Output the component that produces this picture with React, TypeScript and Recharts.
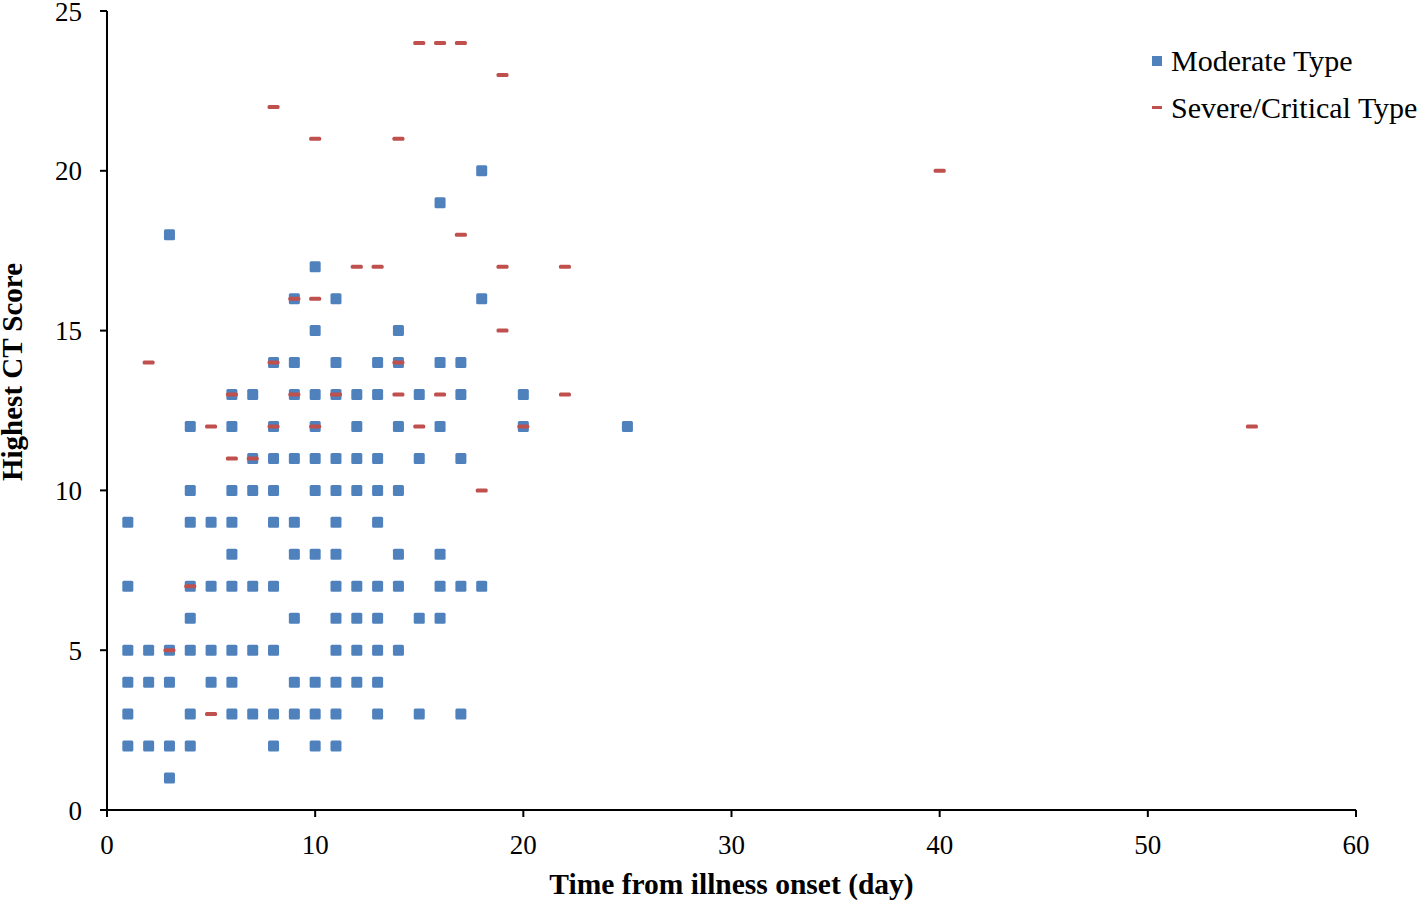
import { ScatterChart, Scatter, XAxis, YAxis, Legend, Label } from "recharts";

// moderate type, listed row by row (score 1 upward)
const moderateDays = [
  3,
  1, 2, 3, 4, 8, 10, 11,
  1, 4, 6, 7, 8, 9, 10, 11, 13, 15, 17,
  1, 2, 3, 5, 6, 9, 10, 11, 12, 13,
  1, 2, 3, 4, 5, 6, 7, 8, 11, 12, 13, 14,
  4, 9, 11, 12, 13, 15, 16,
  1, 4, 5, 6, 7, 8, 11, 12, 13, 14, 16, 17, 18,
  6, 9, 10, 11, 14, 16,
  1, 4, 5, 6, 8, 9, 11, 13,
  4, 6, 7, 8, 10, 11, 12, 13, 14,
  7, 8, 9, 10, 11, 12, 13, 15, 17,
  4, 6, 8, 10, 12, 14, 16, 20, 25,
  6, 7, 9, 10, 11, 12, 13, 15, 17, 20,
  8, 9, 11, 13, 14, 16, 17,
  10, 14,
  9, 11, 18,
  10,
  3,
  16,
  18,
];
const moderateScores = [
  1,
  2, 2, 2, 2, 2, 2, 2,
  3, 3, 3, 3, 3, 3, 3, 3, 3, 3, 3,
  4, 4, 4, 4, 4, 4, 4, 4, 4, 4,
  5, 5, 5, 5, 5, 5, 5, 5, 5, 5, 5, 5,
  6, 6, 6, 6, 6, 6, 6,
  7, 7, 7, 7, 7, 7, 7, 7, 7, 7, 7, 7, 7,
  8, 8, 8, 8, 8, 8,
  9, 9, 9, 9, 9, 9, 9, 9,
  10, 10, 10, 10, 10, 10, 10, 10, 10,
  11, 11, 11, 11, 11, 11, 11, 11, 11,
  12, 12, 12, 12, 12, 12, 12, 12, 12,
  13, 13, 13, 13, 13, 13, 13, 13, 13, 13,
  14, 14, 14, 14, 14, 14, 14,
  15, 15,
  16, 16, 16,
  17,
  18,
  19,
  20,
];

// severe / critical type
const severeDays = [5, 3, 4, 18, 6, 7, 5, 8, 10, 15, 20, 55, 6, 9, 11, 14, 16, 22, 2, 8, 14, 19, 9, 10, 12, 13, 19, 22, 17, 40, 10, 14, 8, 19, 15, 16, 17];
const severeScores = [3, 5, 7, 10, 11, 11, 12, 12, 12, 12, 12, 12, 13, 13, 13, 13, 13, 13, 14, 14, 14, 15, 16, 16, 17, 17, 17, 17, 18, 20, 21, 21, 22, 23, 24, 24, 24];

const xTicks = [0, 10, 20, 30, 40, 50, 60];
const yTicks = [0, 5, 10, 15, 20, 25];

const moderateData = moderateDays.map((d, i) => ({ day: d, score: moderateScores[i] }));
const severeData = severeDays.map((d, i) => ({ day: d, score: severeScores[i] }));

const FONT = '"Liberation Serif", "Times New Roman", serif';
const BLUE = "#4F81BD";
const RED = "#C0504D";

const Square = (props: any) => {
  const { cx, cy } = props;
  return <rect x={cx - 5.5} y={cy - 5.5} width={11} height={11} rx={1.5} fill={BLUE} />;
};

const Dash = (props: any) => {
  const { cx, cy } = props;
  return <rect x={cx - 6} y={cy - 2} width={12} height={4} rx={1.5} fill={RED} />;
};

const XTitle = (props: any) => {
  const vb = props.viewBox;
  return (
    <text x={vb.x + vb.width / 2} y={vb.y + 84} textAnchor="middle" fontFamily={FONT} fontSize={29.5} fontWeight="bold" fill="#000">
      Time from illness onset (day)
    </text>
  );
};

const YTitle = (props: any) => {
  const vb = props.viewBox;
  const x = vb.x + 22;
  const y = 372;
  return (
    <text x={x} y={y} transform={`rotate(-90, ${x}, ${y})`} textAnchor="middle" fontFamily={FONT} fontSize={29} fontWeight="bold" fill="#000">
      Highest CT Score
    </text>
  );
};

const LegendBox = () => (
  <div style={{ fontFamily: FONT, fontSize: 30, color: "#000", lineHeight: "47px", whiteSpace: "nowrap" }}>
    <div style={{ display: "flex", alignItems: "center" }}>
      <span style={{ display: "inline-block", width: 10, height: 10, background: BLUE, marginRight: 9 }} />
      Moderate Type
    </div>
    <div style={{ display: "flex", alignItems: "center" }}>
      <span style={{ display: "inline-block", width: 10, height: 3, background: RED, marginRight: 9 }} />
      Severe/Critical Type
    </div>
  </div>
);

const App = () => {
  return (
    <div style={{ position: "absolute", left: 0, top: 0, background: "#fff" }}>
      <ScatterChart width={1418} height={902} margin={{ top: 11, right: 62, bottom: 0, left: 0 }}>
        <XAxis
          type="number"
          dataKey="day"
          domain={[0, 60]}
          ticks={xTicks}
          interval={0}
          height={92}
          axisLine={{ stroke: "#000", strokeWidth: 2 }}
          tickLine={{ stroke: "#000", strokeWidth: 2 }}
          tickSize={7}
          tickMargin={18}
          tick={{ fill: "#000", fontFamily: FONT, fontSize: 27 }}
        >
          <Label content={XTitle} />
        </XAxis>
        <YAxis
          type="number"
          dataKey="score"
          domain={[0, 25]}
          ticks={yTicks}
          interval={0}
          width={107}
          axisLine={{ stroke: "#000", strokeWidth: 2 }}
          tickLine={{ stroke: "#000", strokeWidth: 2 }}
          tickSize={7}
          tickMargin={18}
          tick={{ fill: "#000", fontFamily: FONT, fontSize: 27 }}
        >
          <Label content={YTitle} />
        </YAxis>
        <Legend
          layout="horizontal"
          verticalAlign="middle"
          align="center"
          content={LegendBox}
          wrapperStyle={{ position: "absolute", left: 1152, top: 37, width: 266 }}
        />
        <Scatter name="Moderate Type" data={moderateData} shape={Square} isAnimationActive={false} />
        <Scatter name="Severe/Critical Type" data={severeData} shape={Dash} isAnimationActive={false} />
      </ScatterChart>
    </div>
  );
};

export default App;
